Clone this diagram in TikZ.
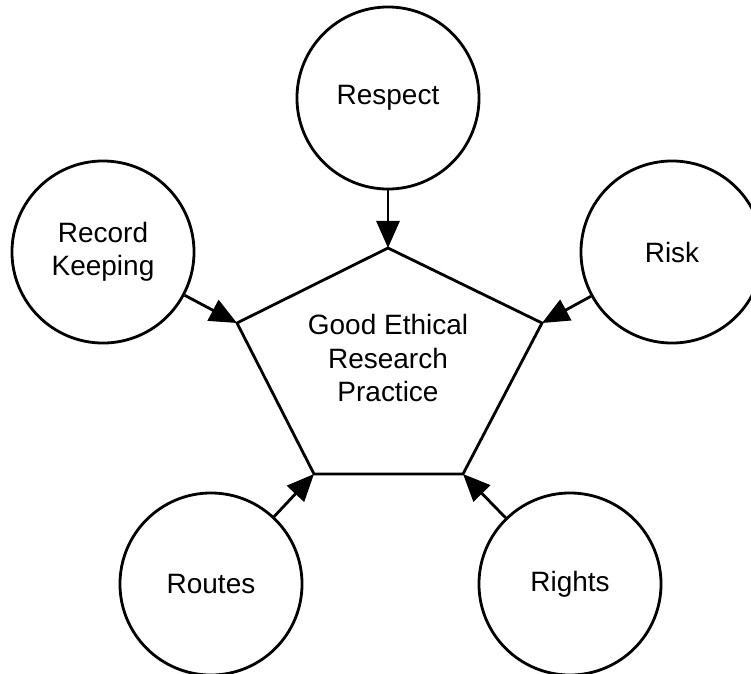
\documentclass[tikz,border=0pt]{standalone}
\usepackage{fontspec}
\setmainfont{Liberation Sans}
\usetikzlibrary{arrows.meta}

\tikzset{
  topic/.style={draw, circle, line width=2pt, minimum size=4.55cm, inner sep=0pt,
    align=center, font=\fontsize{19.9}{23.5}\selectfont},
  feeds/.style={line width=2pt, -{Triangle[length=0.68cm, width=0.58cm]}}
}

\begin{document}
\begin{tikzpicture}[x=0.025cm, y=-0.025cm]
         \useasboundingbox (0, 0) rectangle (751, 673);
         % Pentagon
         \coordinate (pt) at (388, 248);
         \coordinate (pl) at (237, 323);
         \coordinate (pr) at (542, 323);
         \coordinate (pbl) at (314, 474);
         \coordinate (pbr) at (463, 474);
         \draw [line width=2pt, line join=miter] (pt) -- (pr) -- (pbr) -- (pbl) -- (pl) -- cycle;
         \node (practice) at (388, 358) [align=center, font=\fontsize{19.9}{23.5}\selectfont]
              {Good Ethical\\Research\\Practice};
         % Topics
         \node (respect) at (388, 98)  [topic] {Respect};
         \node (record)  at (103, 252) [topic] {Record\\Keeping};
         \node (risk)    at (672, 252) [topic] {Risk};
         \node (routes)  at (211, 584) [topic] {Routes};
         \node (rights)  at (570, 584) [topic] {Rights};
         \foreach \n/\v in {respect/pt, record/pl, risk/pr, routes/pbl, rights/pbr}
              \draw [feeds] (\n) -- (\v);
     \end{tikzpicture}
\end{document}
